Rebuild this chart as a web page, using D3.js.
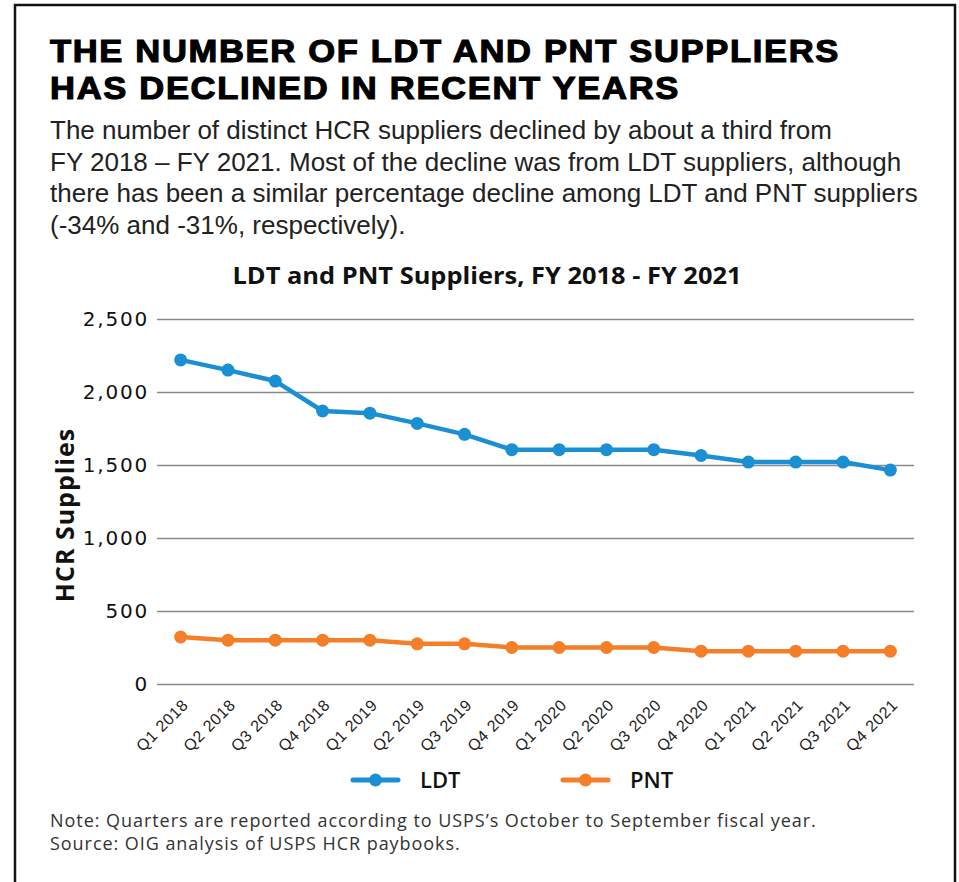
<!DOCTYPE html>
<html>
<head>
<meta charset="utf-8">
<script src="https://cdn.jsdelivr.net/npm/d3@7"></script>
<style>
  body { margin: 0; background: #fff; }
  svg { display: block; }
</style>
</head>
<body>
<svg width="959" height="882"></svg>
<script>
const quarters = ['Q1 2018', 'Q2 2018', 'Q3 2018', 'Q4 2018', 'Q1 2019', 'Q2 2019', 'Q3 2019', 'Q4 2019',
    'Q1 2020', 'Q2 2020', 'Q3 2020', 'Q4 2020', 'Q1 2021', 'Q2 2021', 'Q3 2021', 'Q4 2021'];
const ldtValues = [2220, 2150, 2075, 1870, 1855, 1785, 1710, 1605, 1605, 1605, 1605, 1565, 1520, 1520, 1520, 1465];
const pntValues = [322, 300, 300, 300, 300, 275, 275, 250, 250, 250, 250, 225, 225, 225, 225, 225];
const yTicks = [0, 500, 1000, 1500, 2000, 2500];
const seriesNames = ['LDT', 'PNT'];
const seriesColors = ['#1b8fd4', '#f47f28'];

const titleLines = ['THE NUMBER OF LDT AND PNT SUPPLIERS', 'HAS DECLINED IN RECENT YEARS'];
const titleWidths = [790, 630];
const introLines = [
    'The number of distinct HCR suppliers declined by about a third from',
    'FY 2018 \u2013 FY 2021. Most of the decline was from LDT suppliers, although',
    'there has been a similar percentage decline among LDT and PNT suppliers',
    '(-34% and -31%, respectively).'
];
const noteLines = [
    'Note: Quarters are reported according to USPS\u2019s October to September fiscal year.',
    'Source: OIG analysis of USPS HCR paybooks.'
];

const svg = d3.select('svg');

// frame, open at the bottom edge of the picture
svg.append('path')
    .attr('d', 'M15,882 V5 H955 V882')
    .attr('fill', 'none')
    .attr('stroke', '#111')
    .attr('stroke-width', 2.5);

svg.selectAll('.title').data(titleLines).enter().append('text')
    .attr('class', 'title')
    .attr('x', 50)
    .attr('y', (d, i) => 62 + i * 37)
    .attr('textLength', (d, i) => titleWidths[i])
    .attr('lengthAdjust', 'spacingAndGlyphs')
    .style('font-family', '"Liberation Sans", Arial, sans-serif')
    .style('font-weight', 900)
    .style('font-size', '31px')
    .style('letter-spacing', '1.5px')
    .attr('fill', '#000')
    .attr('stroke', '#000')
    .attr('stroke-width', 1.1)
    .text(d => d);

svg.selectAll('.intro').data(introLines).enter().append('text')
    .attr('class', 'intro')
    .attr('x', 50)
    .attr('y', (d, i) => 139 + i * 31.5)
    .style('font-family', '"Liberation Sans", Arial, sans-serif')
    .style('font-size', '26px')
    .attr('fill', '#222')
    .text(d => d);

svg.append('text')
    .attr('x', 487)
    .attr('y', 284)
    .attr('text-anchor', 'middle')
    .attr('textLength', 509)
    .attr('lengthAdjust', 'spacingAndGlyphs')
    .style('font-family', '"Open Sans", sans-serif')
    .style('font-weight', 700)
    .style('font-size', '23px')
    .attr('fill', '#111')
    .text('LDT and PNT Suppliers, FY 2018 - FY 2021');

const margin = { top: 319, left: 157 };
const innerWidth = 914 - 157;
const innerHeight = 684 - 319;

const g = svg.append('g')
    .attr('transform', `translate(${margin.left}, ${margin.top})`);

const xScale = d3.scalePoint()
    .domain(quarters)
    .range([0, innerWidth])
    .padding(0.5);

const yScale = d3.scaleLinear()
    .domain([0, 2500])
    .range([innerHeight, 0]);

const yAxis = d3.axisLeft(yScale)
    .tickValues(yTicks)
    .tickSize(-innerWidth)
    .tickPadding(8)
    .tickFormat(d3.format(','));

const yAxisG = g.append('g').call(yAxis);
yAxisG.select('.domain').remove();
yAxisG.selectAll('.tick line')
    .attr('stroke', '#8a8a8a')
    .attr('stroke-width', 1.5);
yAxisG.selectAll('.tick text')
    .attr('fill', '#111')
    .style('font-family', '"DejaVu Sans", sans-serif')
    .style('font-size', '20px')
    .style('letter-spacing', '1.8px');

const xAxis = d3.axisBottom(xScale).tickSize(0).tickPadding(0);
const xAxisG = g.append('g')
    .attr('transform', `translate(0, ${innerHeight})`)
    .call(xAxis);
xAxisG.select('.domain').remove();
xAxisG.selectAll('.tick text')
    .attr('fill', '#222')
    .attr('dy', 0)
    .attr('transform', 'translate(8, 22) rotate(-45)')
    .style('text-anchor', 'end')
    .style('font-family', '"Liberation Sans", Arial, sans-serif')
    .style('font-size', '16px')
    .style('letter-spacing', '0.6px');

svg.append('text')
    .attr('transform', 'translate(74, 515) rotate(-90)')
    .attr('text-anchor', 'middle')
    .style('font-family', '"Open Sans", sans-serif')
    .style('font-weight', 700)
    .style('font-size', '25px')
    .style('letter-spacing', '1px')
    .attr('fill', '#111')
    .text('HCR Supplies');

const seriesData = [ldtValues, pntValues];

const line = d3.line()
    .x((d, i) => xScale(quarters[i]))
    .y(d => yScale(d));

seriesData.forEach((values, s) => {
    g.append('path')
        .attr('d', line(values))
        .attr('fill', 'none')
        .attr('stroke', seriesColors[s])
        .attr('stroke-width', 4.5)
        .attr('stroke-linejoin', 'round');
    g.selectAll(`.dot-${s}`).data(values).enter().append('circle')
        .attr('cx', (d, i) => xScale(quarters[i]))
        .attr('cy', d => yScale(d))
        .attr('r', 6.5)
        .attr('fill', seriesColors[s]);
});

// legend
const legend = svg.append('g').attr('transform', 'translate(353, 780)');
seriesNames.forEach((name, i) => {
    const lg = legend.append('g').attr('transform', `translate(${i * 210}, 0)`);
    lg.append('line')
        .attr('x1', 0).attr('x2', 45)
        .attr('stroke', seriesColors[i])
        .attr('stroke-width', 5)
        .attr('stroke-linecap', 'round');
    lg.append('circle')
        .attr('cx', 22.5).attr('r', 6.5)
        .attr('fill', seriesColors[i]);
    lg.append('text')
        .attr('x', 67)
        .attr('y', 8)
        .style('font-family', '"Open Sans", sans-serif')
        .style('font-weight', 600)
        .style('font-size', '22px')
        .attr('fill', '#111')
        .text(name);
});

svg.selectAll('.note').data(noteLines).enter().append('text')
    .attr('class', 'note')
    .attr('x', 50)
    .attr('y', (d, i) => 827 + i * 23)
    .style('font-family', '"Open Sans", sans-serif')
    .style('font-size', '18px')
    .style('letter-spacing', '0.95px')
    .attr('fill', '#333')
    .text(d => d);
</script>
</body>
</html>
